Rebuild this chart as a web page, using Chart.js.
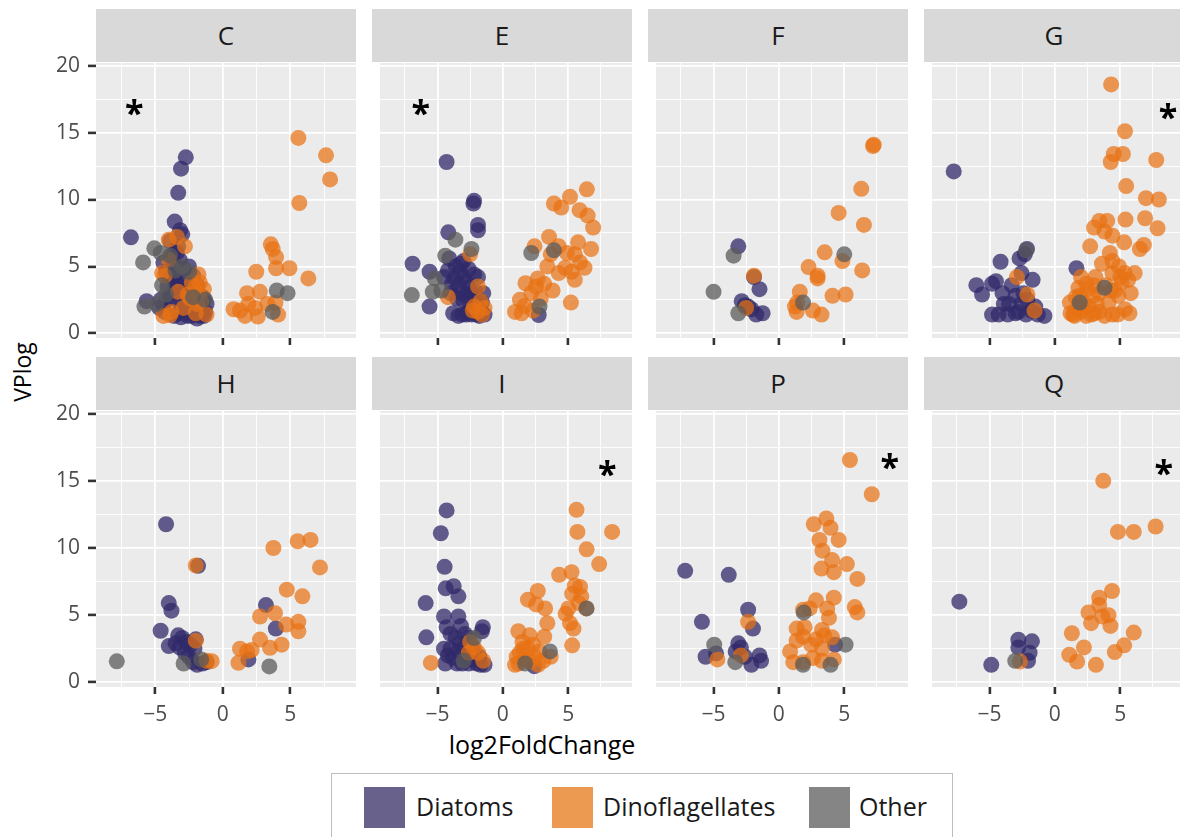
<!DOCTYPE html>
<html>
<head>
<meta charset="utf-8">
<script src="https://cdn.jsdelivr.net/npm/chart.js@4.4.1/dist/chart.umd.min.js"></script>
<style>
	body { margin: 0; width: 1180px; height: 837px; overflow: hidden; background: #fff; position: relative; font-family: "Open Sans", sans-serif; }
	canvas { position: absolute; }
	.strip { position: absolute; background: #d9d9d9; color: #1a1a1a; font-size: 26px; text-align: center; }
	.ytitle { position: absolute; left: 22px; top: 372px; transform: translate(-50%, -50%) rotate(-90deg); font-size: 23px; color: #000; white-space: nowrap; }
	.xtitle { position: absolute; left: 542px; top: 744px; transform: translate(-50%, -50%); font-size: 25px; color: #000; white-space: nowrap; }
	#legend { position: absolute; left: 331px; top: 773px; width: 622px; height: 80px; border: 1px solid #bdbdbd; box-sizing: border-box; }
	.sw { position: absolute; top: 13px; width: 41px; height: 41px; }
	.lt { position: absolute; top: 32px; transform: translateY(-50%); font-size: 25px; color: #1a1a1a; white-space: nowrap; }
</style>
</head>
<body>

<div class="ytitle">VPlog</div>
<div class="xtitle">log2FoldChange</div>
<div id="legend">
	<div class="sw" style="left:32px;background:#67618c"></div><div class="lt" style="left:84px">Diatoms</div>
	<div class="sw" style="left:220px;background:#ec9a52"></div><div class="lt" style="left:271px">Dinoflagellates</div>
	<div class="sw" style="left:477px;background:#858585"></div><div class="lt" style="left:527px">Other</div>
</div>

<script>
'use strict';

// facet names, in reading order
const panelNames = ['C', 'E', 'F', 'G', 'H', 'I', 'P', 'Q'];
const xTicks = [-7.5, -5, -2.5, 0, 2.5, 5, 7.5];
const yTicks = [0, 2.5, 5, 7.5, 10, 12.5, 15, 17.5, 20];

// [log2FoldChange, VPlog]
const C_dia = [[-2.74,13.15],[-3.09,12.3],[-3.3,10.5],[-6.8,7.17],[-3.56,8.35],[-3.16,7.7],[-3.0,7.4],[-5.64,2.4],[-4.2,4.6],[-3.8,4.2],[-3.5,3.8],[-3.2,3.5],[-3.0,3.0],[-2.7,2.6],[-2.4,2.3],[-2.0,2.0],[-1.8,1.7],[-1.5,1.4],[-1.4,1.3],[-2.2,1.5],[-2.6,1.8],[-3.0,2.1],[-3.4,2.5],[-3.8,3.0],[-4.1,3.5],[-2.8,4.0],[-2.4,3.6],[-2.0,3.2],[-1.6,2.8],[-1.9,2.4],[-3.6,5.2],[-3.2,5.5],[-3.9,6.9],[-3.4,6.0],[-2.9,4.8],[-1.5,2.0],[-1.7,1.3],[-2.3,1.3],[-3.3,1.5],[-4.4,2.1],[-4.6,2.5],
	[-4.7,1.9],[-4.3,1.6],[-3.6,1.3],[-3.1,1.2],[-2.6,1.3],[-1.9,1.1],[-1.3,1.6],[-1.2,2.2],[-1.4,2.6],[-1.9,3.6],[-2.2,4.3],[-2.5,5.0],[-3.7,5.9],[-4.4,5.3],[-3.3,6.5],[-2.7,3.1],[-3.1,4.3],[-3.6,4.4],[-4.0,2.6],[-1.6,1.9]];
const C_dino = [[5.6,14.6],[7.65,13.3],[7.95,11.5],[5.67,9.74],[3.56,6.65],[3.7,6.3],[3.95,5.7],[3.95,4.86],[4.94,4.86],[6.34,4.1],[2.48,4.6],[1.8,3.0],[2.75,3.1],[1.9,2.2],[1.28,1.7],[1.65,1.3],[2.6,1.25],[3.3,2.2],[3.9,2.3],[4.1,1.4],[2.4,1.9],[0.8,1.8],[-3.9,1.35],[-2.8,6.5],[-4.5,4.5],[-1.7,3.8],[-2.3,3.8],[-2.0,3.5],[-1.8,3.0],[-1.6,2.4],[-2.6,2.9],[-4.0,5.5],[-4.3,4.3],[-3.8,1.6],[-2.0,1.5],[-1.9,2.2],[-4.0,7.0],[-3.4,7.2],
	[-1.4,3.3],[-1.2,1.4],[-2.9,1.9],[-3.3,3.1],[-2.4,2.6],[-4.4,1.3],[-1.8,4.4]];
const C_oth = [[-5.8,2.0],[-5.07,6.35],[-5.9,5.3],[-3.9,5.8],[4.0,3.2],[4.8,3.0],[3.7,1.6],[-3.5,4.7],[-4.5,3.6],[-3.0,5.0],[-2.2,2.7],[-4.6,6.0],[-4.9,2.2],[-4.2,2.9],[-2.5,4.6],[-1.3,2.5]];

const E_dia = [[-4.3,12.8],[-2.25,9.7],[-1.9,7.7],[-4.17,7.55],[-6.9,5.2],[-5.6,4.6],[-5.6,2.0],[-4.1,5.6],[2.74,1.37],[-3.6,5.0],[-3.3,4.6],[-3.0,4.2],[-2.8,3.8],[-2.6,3.4],[-2.4,3.0],[-2.2,2.6],[-2.0,2.2],[-1.8,1.8],[-1.6,1.5],[-1.4,1.4],[-2.8,1.4],[-2.4,1.4],[-2.0,1.4],[-3.2,3.0],[-3.4,3.6],[-3.0,5.4],[-2.6,4.8],[-2.2,4.4],[-1.9,4.2],[-3.7,4.1],[-3.9,3.7],[-2.5,2.0],[-3.0,2.4],[-4.2,4.7],[-1.9,8.1],[-2.2,9.9],
	[-3.8,1.5],[-3.4,1.3],[-3.1,1.4],[-2.6,1.6],[-1.8,1.3],[-1.6,2.3],[-1.5,3.0],[-2.1,3.1],[-2.8,2.8],[-3.5,2.6],[-4.0,3.0],[-3.2,5.2],[-4.5,4.2]];
const E_dino = [[6.42,10.76],[5.13,10.2],[3.9,9.7],[4.46,9.4],[5.86,9.2],[6.48,8.8],[6.9,7.9],[3.53,7.2],[2.42,6.5],[4.27,6.5],[5.75,6.8],[6.74,6.3],[5.5,5.9],[6.24,4.9],[5.25,4.6],[5.5,4.0],[3.4,5.0],[4.27,4.5],[1.73,3.74],[2.54,3.5],[3.16,3.7],[2.17,3.0],[1.3,2.5],[1.67,2.05],[0.93,1.6],[1.43,1.5],[2.3,1.7],[3.8,3.2],[5.2,2.3],[4.77,4.9],[2.67,4.1],[3.66,5.9],[-4.2,2.7],[-1.9,3.5],[-1.7,2.4],[-2.3,1.7],[-1.4,1.9],[-2.5,5.9],[4.9,6.0],[5.9,5.3],[2.9,2.6],
	[-1.9,1.6],[-1.6,1.4],[-2.2,2.0]];
const E_oth = [[-6.96,2.86],[-5.36,3.1],[-3.63,7.0],[-5.2,4.1],[-4.7,3.2],[2.17,6.0],[3.9,6.2],[2.8,2.0],[-4.4,5.8],[-2.4,6.3]];

const F_dia = [[-3.1,6.5],[-1.9,4.2],[-1.48,3.3],[-2.84,2.4],[-2.35,2.0],[-1.73,1.4],[-1.24,1.5],[-2.1,1.8],[-2.6,2.1]];
const F_dino = [[7.2,14.0],[7.25,14.1],[6.3,10.8],[4.57,9.0],[6.5,8.1],[3.5,6.05],[4.86,5.4],[6.37,4.7],[2.27,4.95],[2.96,4.3],[2.96,4.1],[4.1,2.8],[5.1,2.9],[1.6,3.1],[1.23,2.0],[1.36,1.6],[2.6,1.7],[3.26,1.4],[-2.5,1.9],[-1.9,4.3],[1.4,2.3]];
const F_oth = [[5.0,5.9],[-3.46,5.8],[-4.99,3.1],[-3.1,1.5],[1.85,2.3]];

const G_dia = [[-7.73,12.1],[1.65,4.86],[-4.15,5.35],[-2.7,5.6],[-2.13,6.3],[-2.3,5.9],[-6.0,3.6],[-5.56,2.9],[-4.8,3.7],[-4.0,3.0],[-4.8,1.4],[-4.3,1.4],[-3.5,2.2],[-3.0,1.5],[-2.55,2.2],[-1.7,4.0],[-2.55,4.5],[-2.1,2.5],[-1.3,1.4],[-0.8,1.3],[-1.8,1.7],[-3.3,3.6],[-4.5,3.9],[-3.0,2.8],[-2.2,1.4],[-1.5,2.0],
	[-3.9,2.2],[-2.8,1.6],[-2.4,3.0],[-3.6,1.4]];
const G_dino = [[4.3,18.6],[5.36,15.1],[4.5,13.4],[5.2,13.4],[4.27,12.8],[7.75,12.95],[5.45,11.0],[6.96,10.1],[7.95,10.0],[7.85,7.85],[6.9,8.6],[5.4,8.5],[3.4,8.4],[4.0,8.4],[3.0,7.9],[3.8,7.6],[4.4,7.3],[5.3,6.8],[6.8,6.6],[6.5,6.3],[2.7,6.5],[1.4,1.4],[1.15,2.3],[1.9,2.8],[2.4,3.7],[3.1,4.2],[4.4,4.5],[5.35,4.5],[6.1,4.5],[5.1,3.8],[4.86,2.8],[4.1,2.3],[3.4,1.6],[2.4,1.3],[4.4,1.4],[5.35,1.8],[2.9,2.8],[3.4,3.0],[2.15,2.3],[1.65,1.8],[4.4,5.4],[4.9,5.0],[-2.9,4.2],[-2.1,2.9],[-1.55,1.7],[2.0,4.2],[3.6,5.2],[2.6,2.0],[3.9,3.6],[4.6,3.2],[1.8,3.4],[3.0,1.5],[2.0,1.6],[5.8,3.0],[4.2,6.0],
	[1.2,1.5],[1.5,1.3],[2.8,1.4],[3.2,2.2],[3.8,1.3],[4.8,1.4],[5.7,1.5],[2.5,3.3],[3.0,3.6],[4.3,3.2],[5.0,4.2],[5.6,4.0],[1.6,2.7],[2.1,1.9]];
const G_oth = [[-2.2,6.2],[1.9,2.3],[3.8,3.4]];

const H_dia = [[-4.2,11.77],[-1.83,8.67],[-4.0,5.9],[-3.8,5.33],[-4.6,3.84],[-4.0,2.7],[1.9,1.7],[3.2,5.75],[3.93,4.0],[-3.3,3.5],[-3.0,3.3],[-2.7,3.0],[-2.4,2.8],[-2.1,2.5],[-3.2,2.6],[-2.8,2.2],[-2.5,1.9],[-2.2,1.5],[-1.9,1.3],[-1.5,1.4],[-1.2,1.5],[-2.0,3.2],[-3.5,2.9]];
const H_dino = [[-0.82,1.57],[1.16,1.45],[1.28,2.5],[2.14,2.4],[2.76,3.18],[3.5,2.57],[4.36,2.8],[2.76,4.9],[3.87,5.14],[4.74,6.9],[5.9,6.4],[5.6,4.5],[5.6,3.8],[4.7,4.3],[3.75,10.0],[5.55,10.5],[6.5,10.6],[7.2,8.55],[-2.0,3.1],[-1.2,1.6],[-2.0,8.7],[1.8,2.3]];
const H_oth = [[-7.85,1.56],[-2.9,1.4],[3.45,1.18],[-1.6,1.7]];

const I_dia = [[-4.3,12.8],[-4.74,11.1],[-4.45,8.6],[-4.37,7.0],[-3.76,7.15],[-3.4,6.4],[-5.9,5.9],[-5.85,3.35],[-4.5,4.9],[-3.4,4.9],[-1.53,4.1],[2.4,1.2],[-4.3,4.1],[-4.0,3.6],[-3.6,3.3],[-3.3,2.9],[-3.0,2.5],[-2.7,2.1],[-2.4,1.7],[-2.0,1.4],[-1.7,1.3],[-1.4,1.3],[-4.5,2.5],[-4.2,2.0],[-3.8,1.8],[-3.4,2.3],[-2.9,3.6],[-3.2,4.2],[-1.6,3.8],[-2.2,2.0],[-1.8,1.9],[-4.4,1.4],
	[-3.1,1.4],[-2.6,1.4],[-3.5,1.4],[-4.0,2.5],[-2.6,3.3],[-2.3,2.5]];
const I_dino = [[-5.5,1.44],[5.63,12.84],[5.7,11.2],[8.35,11.2],[6.4,9.9],[7.36,8.8],[4.3,8.0],[5.25,8.2],[5.5,7.2],[5.9,7.1],[5.3,6.6],[6.37,5.5],[5.0,5.5],[5.13,4.4],[5.4,4.0],[5.3,2.75],[2.67,6.8],[1.92,6.15],[2.54,5.8],[3.23,5.5],[3.4,4.4],[3.16,3.4],[1.18,3.8],[2.05,3.5],[1.55,2.5],[0.93,1.3],[2.05,1.55],[3.65,1.9],[2.8,2.3],[1.06,1.9],[-2.5,3.0],[-2.2,2.6],[-1.9,2.2],[-2.6,2.2],[-1.5,1.6],[1.5,3.0],[2.3,2.8],[1.3,2.2],[2.4,1.9],[5.8,5.9],[6.0,6.4],[4.8,5.1],
	[1.2,1.4],[1.7,1.7],[2.7,1.3],[3.1,1.6],[1.9,2.5]];
const I_oth = [[-2.2,3.3],[-3.0,1.6],[6.4,5.5],[3.6,2.3],[1.7,1.4]];

const P_dia = [[-7.16,8.3],[-3.83,8.0],[-5.88,4.5],[-2.35,5.4],[-1.98,4.0],[-3.1,2.9],[-4.8,2.15],[-5.6,1.9],[-2.6,1.9],[-2.1,1.3],[-1.48,2.0],[-1.36,1.6],[4.3,2.8],[-2.9,2.6],[-3.3,2.3]];
const P_dino = [[5.43,16.55],[7.1,14.0],[2.67,11.77],[3.63,12.2],[3.95,11.5],[4.57,10.6],[3.1,10.6],[3.33,9.8],[4.07,9.1],[5.2,8.8],[3.26,8.47],[4.2,8.2],[6.0,7.7],[2.84,6.1],[4.2,6.3],[1.85,5.4],[2.35,5.5],[3.7,5.5],[3.83,4.8],[5.8,5.6],[6.0,5.2],[1.36,4.0],[1.97,4.1],[3.3,3.9],[1.36,3.1],[1.85,3.4],[2.84,3.2],[3.46,3.5],[4.07,3.35],[1.1,1.5],[1.85,1.5],[2.6,1.8],[3.3,1.6],[4.2,1.7],[0.86,2.3],[3.3,2.5],[2.47,2.8],[-4.7,1.7],[-2.35,4.5],[-2.9,2.0]];
const P_oth = [[-4.94,2.8],[-3.33,1.5],[5.1,2.8],[1.85,1.3],[3.95,1.3],[1.9,5.2]];

const Q_dia = [[-7.3,6.0],[-4.86,1.3],[-2.79,3.17],[-1.75,3.05],[-2.79,2.6],[-1.93,2.2],[-2.05,1.6]];
const Q_dino = [[3.7,15.0],[4.82,11.2],[6.03,11.2],[7.7,11.6],[4.37,6.8],[3.39,6.3],[3.39,5.75],[2.57,5.2],[4.1,5.0],[2.77,4.4],[4.25,4.2],[3.63,4.9],[6.03,3.7],[1.3,3.65],[2.22,2.6],[1.1,2.05],[1.7,1.55],[3.14,1.3],[4.58,2.25],[5.3,2.75],[-2.67,1.55]];
const Q_oth = [[-3.03,1.6]];

// significance stars (null = none)
const starPos = [[-6.55,17.0], [-6.27,17.0], null, [8.64,16.7], null, [7.98,16.06], [8.47,16.56], [8.32,16.13]];

const panelDia = [C_dia, E_dia, F_dia, G_dia, H_dia, I_dia, P_dia, Q_dia];
const panelDino = [C_dino, E_dino, F_dino, G_dino, H_dino, I_dino, P_dino, Q_dino];
const panelOth = [C_oth, E_oth, F_oth, G_oth, H_oth, I_oth, P_oth, Q_oth];

const colLeft = [96, 372, 648, 924];
const rowTop = [63, 411];
const rowH = [275, 276];
const stripTop = [9, 357];
const PW = 260, PADT = 15, PADR = 10;

const panelPlugin = {
	id: 'panel',
	beforeDraw(chart) {
		const a = chart.chartArea, c = chart.ctx;
		c.save();
		c.fillStyle = '#ebebeb';
		c.fillRect(a.left, a.top, a.right - a.left, a.bottom - a.top);
		c.restore();
	},
	afterDatasetsDraw(chart, args, opts) {
		if (!opts.star) return;
		const c = chart.ctx;
		const x = chart.scales.x.getPixelForValue(opts.star[0]);
		const y = chart.scales.y.getPixelForValue(opts.star[1]);
		c.save();
		c.font = 'bold 34px "Open Sans"';
		c.fillStyle = '#000';
		c.textAlign = 'center';
		c.textBaseline = 'alphabetic';
		c.fillText('*', x, y + 0.56 * 34);
		c.restore();
	}
};

function pts(arr) {
	return arr.map(p => ({ x: p[0], y: p[1] }));
}

function major(v) {
	return Math.abs(v % 5) < 1e-9;
}

panelNames.forEach(function (name, i) {
	const col = i % 4, row = Math.floor(i / 4);
	const yW = col === 0 ? 96 : 0;
	const xH = row === 1 ? 50 : 10;

	const strip = document.createElement('div');
	strip.className = 'strip';
	strip.style.left = colLeft[col] + 'px';
	strip.style.top = stripTop[row] + 'px';
	strip.style.width = PW + 'px';
	strip.style.height = (rowTop[row] - stripTop[row] - 1) + 'px';
	strip.style.lineHeight = (rowTop[row] - stripTop[row] - 1) + 'px';
	strip.textContent = name;
	document.body.appendChild(strip);

	const cv = document.createElement('canvas');
	const w = yW + PW + PADR, h = PADT + rowH[row] + xH;
	cv.width = w; cv.height = h;
	cv.style.left = (colLeft[col] - yW) + 'px';
	cv.style.top = (rowTop[row] - PADT) + 'px';
	cv.style.width = w + 'px';
	cv.style.height = h + 'px';
	document.body.appendChild(cv);

	const ds = (data, color) => ({
		data: pts(data),
		backgroundColor: color,
		borderWidth: 0,
		pointRadius: 8,
		pointHoverRadius: 8
	});

	new Chart(cv, {
		type: 'scatter',
		data: {
			datasets: [
				ds(panelOth[i], 'rgba(91,91,91,0.75)'),
				ds(panelDino[i], 'rgba(232,114,19,0.72)'),
				ds(panelDia[i], 'rgba(48,42,106,0.75)')
			]
		},
		options: {
			responsive: false,
			devicePixelRatio: 1,
			animation: false,
			events: [],
			layout: { padding: { top: PADT, right: PADR, left: 0, bottom: 0 } },
			plugins: {
				legend: { display: false },
				tooltip: { enabled: false },
				panel: { star: starPos[i] }
			},
			scales: {
				x: {
					type: 'linear',
					min: -9.39,
					max: 9.87,
					border: { display: false },
					afterBuildTicks: s => { s.ticks = xTicks.map(v => ({ value: v })); },
					afterFit: s => { s.height = xH; s.paddingLeft = 0; s.paddingRight = 0; },
					grid: {
						color: '#ffffff',
						lineWidth: c => major(c.tick.value) ? 1.8 : 0.9,
						drawTicks: true,
						tickLength: 7,
						tickWidth: 2.6,
						tickColor: c => major(c.tick.value) ? '#333333' : 'rgba(0,0,0,0)'
					},
					ticks: {
						padding: 8,
						autoSkip: false,
						maxRotation: 0,
						color: '#4d4d4d',
						font: { family: '"Open Sans"', size: 21 },
						callback: v => (row === 1 && major(v)) ? (v < 0 ? '\u2212' + Math.abs(v) : String(v)) : ''
					}
				},
				y: {
					type: 'linear',
					min: -0.35,
					max: 20.2,
					border: { display: false },
					afterBuildTicks: s => { s.ticks = yTicks.map(v => ({ value: v })); },
					afterFit: s => { s.width = yW; s.paddingTop = 0; s.paddingBottom = 0; },
					grid: {
						color: '#ffffff',
						lineWidth: c => major(c.tick.value) ? 1.8 : 0.9,
						drawTicks: col === 0,
						tickLength: 8,
						tickWidth: 2.6,
						tickColor: c => major(c.tick.value) ? '#333333' : 'rgba(0,0,0,0)'
					},
					ticks: {
						padding: 8,
						autoSkip: false,
						color: '#4d4d4d',
						font: { family: '"Open Sans"', size: 21 },
						callback: v => (col === 0 && major(v)) ? String(v) : ''
					}
				}
			}
		},
		plugins: [panelPlugin]
	});
});
</script>
</body>
</html>
